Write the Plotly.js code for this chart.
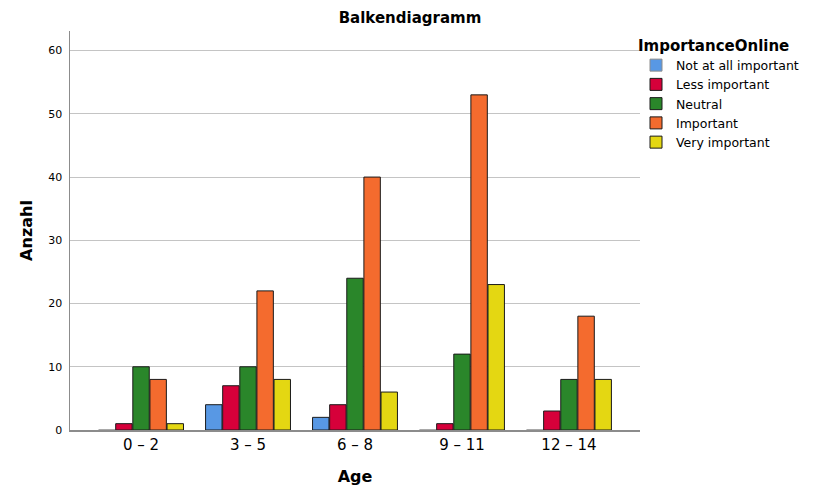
<!DOCTYPE html>
<html>
<head>
<meta charset="utf-8">
<script src="https://cdn.plot.ly/plotly-3.0.1.min.js"></script>
<style>html,body{margin:0;padding:0;background:#fff;}#chart{width:820px;height:499px;}</style>
</head>
<body>
<div id="chart"></div>
<script>
const categories = ["0 – 2", "3 – 5", "6 – 8", "9 – 11", "12 – 14"];
const seriesNames = ["Not at all important", "Less important", "Neutral", "Important", "Very important"];
const notAtAll = [0, 4, 2, 0, 0];
const lessImportant = [1, 7, 4, 1, 3];
const neutral = [10, 10, 24, 12, 8];
const important = [8, 22, 40, 53, 18];
const veryImportant = [1, 8, 6, 23, 8];
const colors = ["#5898e4", "#d6003a", "#2a862a", "#f46b2e", "#e4d712"];
const yTicks = [0, 10, 20, 30, 40, 50, 60];

const axisColor = "#8c8c8c";
const values = [notAtAll, lessImportant, neutral, important, veryImportant];
const traces = values.map((v, i) => ({
  type: "bar",
  name: seriesNames[i],
  x: categories,
  y: v,
  marker: {color: colors[i], line: {color: v.map(val => val > 0 ? "#1a1a1a" : axisColor), width: 1}},
  hoverinfo: "x+y+name"
}));

const font = "DejaVu Sans, Verdana, sans-serif";
const layout = {
  width: 820, height: 499,
  margin: {l: 70, r: 180, t: 31, b: 69},
  paper_bgcolor: "#fff", plot_bgcolor: "#fff",
  font: {family: font, color: "#000"},
  title: {text: "<b>Balkendiagramm</b>", x: 0.5, xref: "container", xanchor: "center", yref: "container", y: 0.965, yanchor: "middle", font: {size: 15, family: font}},
  barmode: "group",
  bargap: 0.2,
  bargroupgap: 0.04,
  xaxis: {
    type: "category",
    range: [-0.664, 4.664],
    showgrid: false,
    showline: true, linecolor: axisColor, linewidth: 2, layer: "above traces",
    ticks: "", tickfont: {size: 15, family: font},
    title: {text: "<b>Age</b>", font: {size: 16, family: font}, standoff: 18},
    zeroline: false
  },
  yaxis: {
    range: [0, 63.1],
    tickvals: yTicks,
    ticktext: yTicks.map(String),
    showgrid: true, gridcolor: "#c4c4c4", gridwidth: 1,
    showline: true, linecolor: axisColor, linewidth: 1.5,
    ticks: "", ticklabelstandoff: 4,
    tickfont: {size: 11, family: font},
    title: {text: "<b>Anzahl</b>", font: {size: 16, family: font}, standoff: 11},
    zeroline: false
  },
  legend: {
    x: 0.993, xanchor: "left", y: 1.0, yanchor: "top",
    title: {text: "<b>ImportanceOnline</b>", font: {size: 15, family: font}},
    font: {size: 12.5, family: font},
    tracegroupgap: 0,
    itemwidth: 30,
    traceorder: "normal",
    bgcolor: "rgba(0,0,0,0)"
  },
  showlegend: true
};

Plotly.newPlot("chart", traces, layout, {displayModeBar: false, staticPlot: true});
</script>
</body>
</html>
